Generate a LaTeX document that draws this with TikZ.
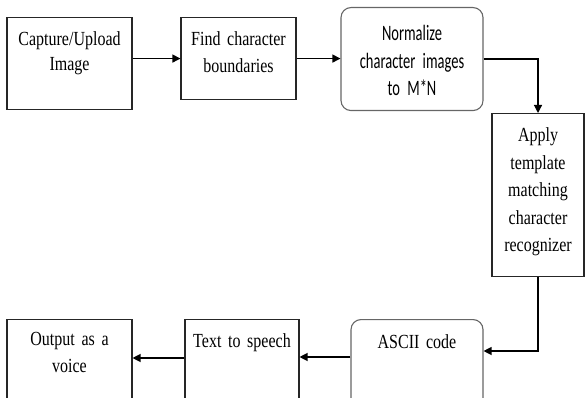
\documentclass[tikz,border=0pt]{standalone}
\usepackage{fontspec}
\setmainfont{Liberation Serif}[FakeStretch=0.8]
\newfontfamily\calfont{Carlito}[FakeStretch=0.66]
\newcommand{\serifsz}[1]{\fontsize{20}{#1}\selectfont\fontdimen2\font=4pt}
\newcommand{\calsz}{\calfont\fontsize{22}{27.5}\selectfont\fontdimen2\font=3.6pt}
\usetikzlibrary{arrows.meta}

\begin{document}
\begin{tikzpicture}[x=1pt,y=-1pt,
  blk/.style={draw=black!85,line width=1.1pt,anchor=north,inner xsep=0pt,inner ysep=0pt,align=center,font=\serifsz{25}},
  rblk/.style={blk,draw=black!60,rounded corners=10pt,font=\calsz},
  arr/.style={line width=1.2pt,-{Triangle[length=8pt,width=8pt]}}]
\useasboundingbox (0,0) rectangle (585,398);
\node[blk,text width=125pt,text height=28pt,text depth=64pt](cap) at (69.5,17) {Capture/Upload\\Image};
\node[blk,text width=115pt,text height=28pt,text depth=54pt,font=\serifsz{26.5}](find) at (238.5,17) {Find character\\boundaries};
\node[rblk,text width=142pt,text height=33pt,text depth=70pt](norm) at (412,7) {Normalize\\character images\\to M*N};
\node[blk,text width=92pt,text height=28pt,text depth=135pt,font=\serifsz{27.5}](apply) at (538,113) {Apply\\template\\matching\\character\\recognizer};
\node[rblk,font=\serifsz{25},text width=132pt,text height=29pt,text depth=100pt](ascii) at (417,319) {ASCII code};
\node[blk,text width=114pt,text height=28pt,text depth=100pt](tts) at (242,319) {Text to speech};
\node[blk,text width=125pt,text height=26pt,text depth=100pt,font=\serifsz{26.5}](out) at (69.5,319) {Output as a\\voice};
\draw[arr] (cap.east |- find.west) -- (find.west);
\draw[arr] (find.east) -- (find.east -| norm.west);
\draw[arr] (norm.east) -| (apply.north);
\draw[arr] (apply.south) |- ([yshift=-32pt]ascii.north east);
\draw[arr] ([yshift=-38pt]ascii.north west) -- ([yshift=-38pt]tts.north east);
\draw[arr] ([yshift=-39pt]tts.north west) -- ([yshift=-39pt]out.north east);
\end{tikzpicture}
\end{document}
